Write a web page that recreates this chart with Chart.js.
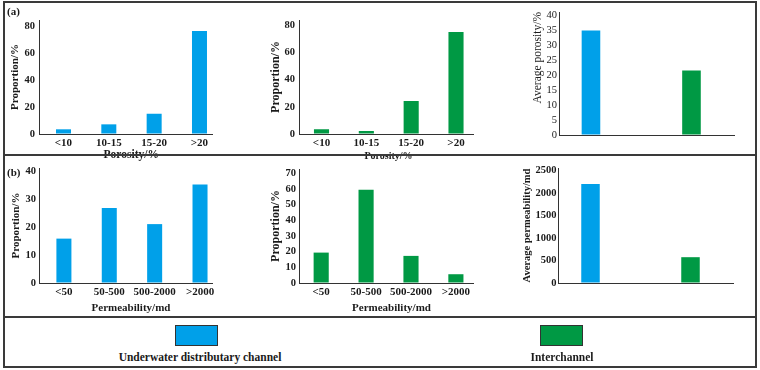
<!DOCTYPE html>
<html>
<head>
<meta charset="utf-8">
<script src="https://cdn.jsdelivr.net/npm/chart.js@4.4.1/dist/chart.umd.min.js"></script>
<style>
  body { margin: 0; background: #fff; }
  #wrap { position: relative; width: 760px; height: 370px; overflow: hidden; background: #fff;
          font-family: "Liberation Serif", "Times New Roman", serif; color: #1a1a1a; }
  canvas { position: absolute; }
  .rule { position: absolute; background: #3a3a3a; z-index: 5; }
  #frame { position: absolute; left: 3px; top: 1px; width: 750px; height: 363px; border: 2px solid #3a3a3a; z-index: 5; }
  .tag { position: absolute; font: bold 11px/12px "Liberation Serif", serif; z-index: 6; }
  .box { position: absolute; width: 43px; height: 21px; box-sizing: border-box; border: 1px solid #333; }
  .lg { position: absolute; width: 220px; text-align: center; font: bold 11.5px/14px "Liberation Serif", serif; }
</style>
</head>
<body>
<div id="wrap">
  <canvas id="c1" width="255" height="162" style="left:0;top:0"></canvas>
  <canvas id="c2" width="254" height="162" style="left:256px;top:0"></canvas>
  <canvas id="c3" width="246" height="162" style="left:510px;top:0"></canvas>
  <canvas id="c4" width="255" height="165" style="left:0;top:150px"></canvas>
  <canvas id="c5" width="254" height="165" style="left:256px;top:150px"></canvas>
  <canvas id="c6" width="246" height="165" style="left:510px;top:150px"></canvas>

  <div id="frame"></div>
  <div class="rule" style="left:3px;top:154px;width:754px;height:2px"></div>
  <div class="rule" style="left:3px;top:316px;width:754px;height:2px"></div>
  <div class="tag" style="left:7px;top:5px">(a)</div>
  <div class="tag" style="left:7px;top:166px">(b)</div>

  <div class="box" id="lgBox0" style="left:175px;top:325px"></div>
  <div class="box" id="lgBox1" style="left:540px;top:325px"></div>
  <div class="lg" id="lgTxt0" style="left:90px;top:350px"></div>
  <div class="lg" id="lgTxt1" style="left:452px;top:350px"></div>
</div>
<script>
// ---------- data ----------
const porosityClasses = ['<10', '10-15', '15-20', '>20'];
const permeabilityClasses = ['<50', '50-500', '500-2000', '>2000'];
const facies = ['Underwater distributary channel', 'Interchannel'];

const channelPorosityShare = [3.5, 7.2, 15.1, 76.8];   // %
const interPorosityShare   = [3.5, 2.2, 24.3, 75.2];   // %
const avgPorosity          = [35, 21.6];               // %

const channelPermShare     = [15.9, 26.9, 21.1, 35.3]; // %
const interPermShare       = [19.4, 59.5, 17.3, 5.6];  // %
const avgPermeability      = [2200, 573];              // md
const avgPermTicks         = [0, 500, 1000, 1500, 2000, 2500];

// ---------- styles ----------
const BLUE = '#00A0E9';
const GREEN = '#009944';
const AXIS = '#333333';
const FONT = '"Liberation Serif", "Times New Roman", serif';

Chart.defaults.font.family = FONT;
Chart.defaults.color = '#1a1a1a';

function bar(id, labels, values, colors, L) {
  return new Chart(document.getElementById(id), {
    type: 'bar',
    data: {
      datasets: [{
        data: values.map((v, i) => ({ x: i, y: v })),
        backgroundColor: colors,
        borderWidth: 0,
        categoryPercentage: 1,
        barPercentage: L.barPct
      }]
    },
    options: {
      responsive: false,
      animation: false,
      events: [],
      layout: { padding: { top: L.padTop, right: L.padRight, left: 0, bottom: 0 } },
      plugins: { legend: { display: false }, tooltip: { enabled: false } },
      scales: {
        x: {
          type: 'linear', min: L.xMin, max: L.xMax, offset: false,
          grid: { display: true, drawOnChartArea: false, drawTicks: false },
          border: { display: true, color: AXIS, width: 1 },
          ticks: {
            display: L.xTicks, stepSize: 1, includeBounds: false, autoSkip: false,
            maxRotation: 0, padding: 3, font: { size: 11, weight: 'bold' },
            callback: v => labels[v]
          },
          title: {
            display: !!L.xTitle, text: L.xTitle || '',
            font: { size: L.xTitleSize || 11, weight: 'bold' }, padding: 0
          },
          afterFit: s => { s.height = L.xAxisH; }
        },
        y: {
          min: 0, max: L.yMax,
          grid: { display: true, drawOnChartArea: false, drawTicks: false },
          border: { display: true, color: AXIS, width: 1 },
          ticks: {
            stepSize: L.yStep, includeBounds: false, autoSkip: false, padding: L.yTickPad,
            font: { size: 10.5, weight: L.yTickWeight || 'bold' },
            callback: v => String(v)
          },
          afterBuildTicks: s => {
            if (L.yTickValues) s.ticks = L.yTickValues.map(v => ({ value: v }));
          },
          title: {
            display: true, text: L.yTitle, align: L.yTitleAlign || 'center',
            font: { size: L.yTitleSize, weight: L.yTitleWeight || 'bold' },
            padding: { top: L.yTitlePad, bottom: 0 }
          },
          afterFit: s => { s.width = L.yAxisW; }
        }
      }
    }
  });
}

// (a) porosity
bar('c1', porosityClasses, channelPorosityShare, BLUE, {
  barPct: 0.331, padTop: 20, padRight: 43, xMin: -0.54, xMax: 3.276, xTicks: true,
  xTitle: '    Porosity/%', xTitleSize: 11.5, xAxisH: 28,
  yMax: 85, yStep: 20, yTickPad: 4, yTitle: 'Proportion/%', yTitleSize: 11, yTitlePad: 8.4, yAxisW: 39
});
bar('c2', porosityClasses, interPorosityShare, GREEN, {
  barPct: 0.337, padTop: 20, padRight: 37, xMin: -0.502, xMax: 3.379, xTicks: true,
  xTitle: '  Porosity/%', xTitleSize: 10, xAxisH: 28,
  yMax: 84, yStep: 20, yTickPad: 4, yTitle: 'Proportion/%', yTitleSize: 12, yTitlePad: 12.8, yAxisW: 43
});
bar('c3', facies, avgPorosity, [BLUE, GREEN], {
  barPct: 0.185, padTop: 12, padRight: 22, xMin: -0.318, xMax: 1.423, xTicks: false,
  xTitle: '', xAxisH: 27,
  yMax: 41.2, yStep: 5, yTickPad: 2, yTickWeight: 'normal',
  yTitle: 'Average porosity/%', yTitleSize: 11.5, yTitleWeight: 'normal', yTitleAlign: 'end', yTitlePad: 20.6, yAxisW: 49
});

// (b) permeability
bar('c4', permeabilityClasses, channelPermShare, BLUE, {
  barPct: 0.331, padTop: 18, padRight: 43, xMin: -0.549, xMax: 3.264, xTicks: true,
  xTitle: '    Permeability/md', xTitleSize: 11, xAxisH: 32,
  yMax: 41.2, yStep: 10, yTickPad: 3, yTitle: 'Proportion/%', yTitleSize: 11, yTitlePad: 9.2, yAxisW: 39
});
bar('c5', permeabilityClasses, interPermShare, GREEN, {
  barPct: 0.337, padTop: 19, padRight: 37, xMin: -0.494, xMax: 3.381, xTicks: true,
  xTitle: '    Permeability/md', xTitleSize: 11, xAxisH: 32,
  yMax: 72.75, yStep: 10, yTickPad: 3, yTitle: 'Proportion/%', yTitleSize: 12, yTitlePad: 12.8, yAxisW: 43
});
bar('c6', facies, avgPermeability, [BLUE, GREEN], {
  barPct: 0.185, padTop: 18, padRight: 23, xMin: -0.325, xMax: 1.425, xTicks: false,
  xTitle: '', xAxisH: 32,
  yMax: 2553, yStep: 500, yTickValues: avgPermTicks, yTickPad: 1.5,
  yTitle: 'Average permeability/md', yTitleSize: 10.5, yTitlePad: 11.4, yAxisW: 48
});

// legend
[BLUE, GREEN].forEach((c, i) => {
  document.getElementById('lgBox' + i).style.background = c;
  document.getElementById('lgTxt' + i).textContent = facies[i];
});
</script>
</body>
</html>
